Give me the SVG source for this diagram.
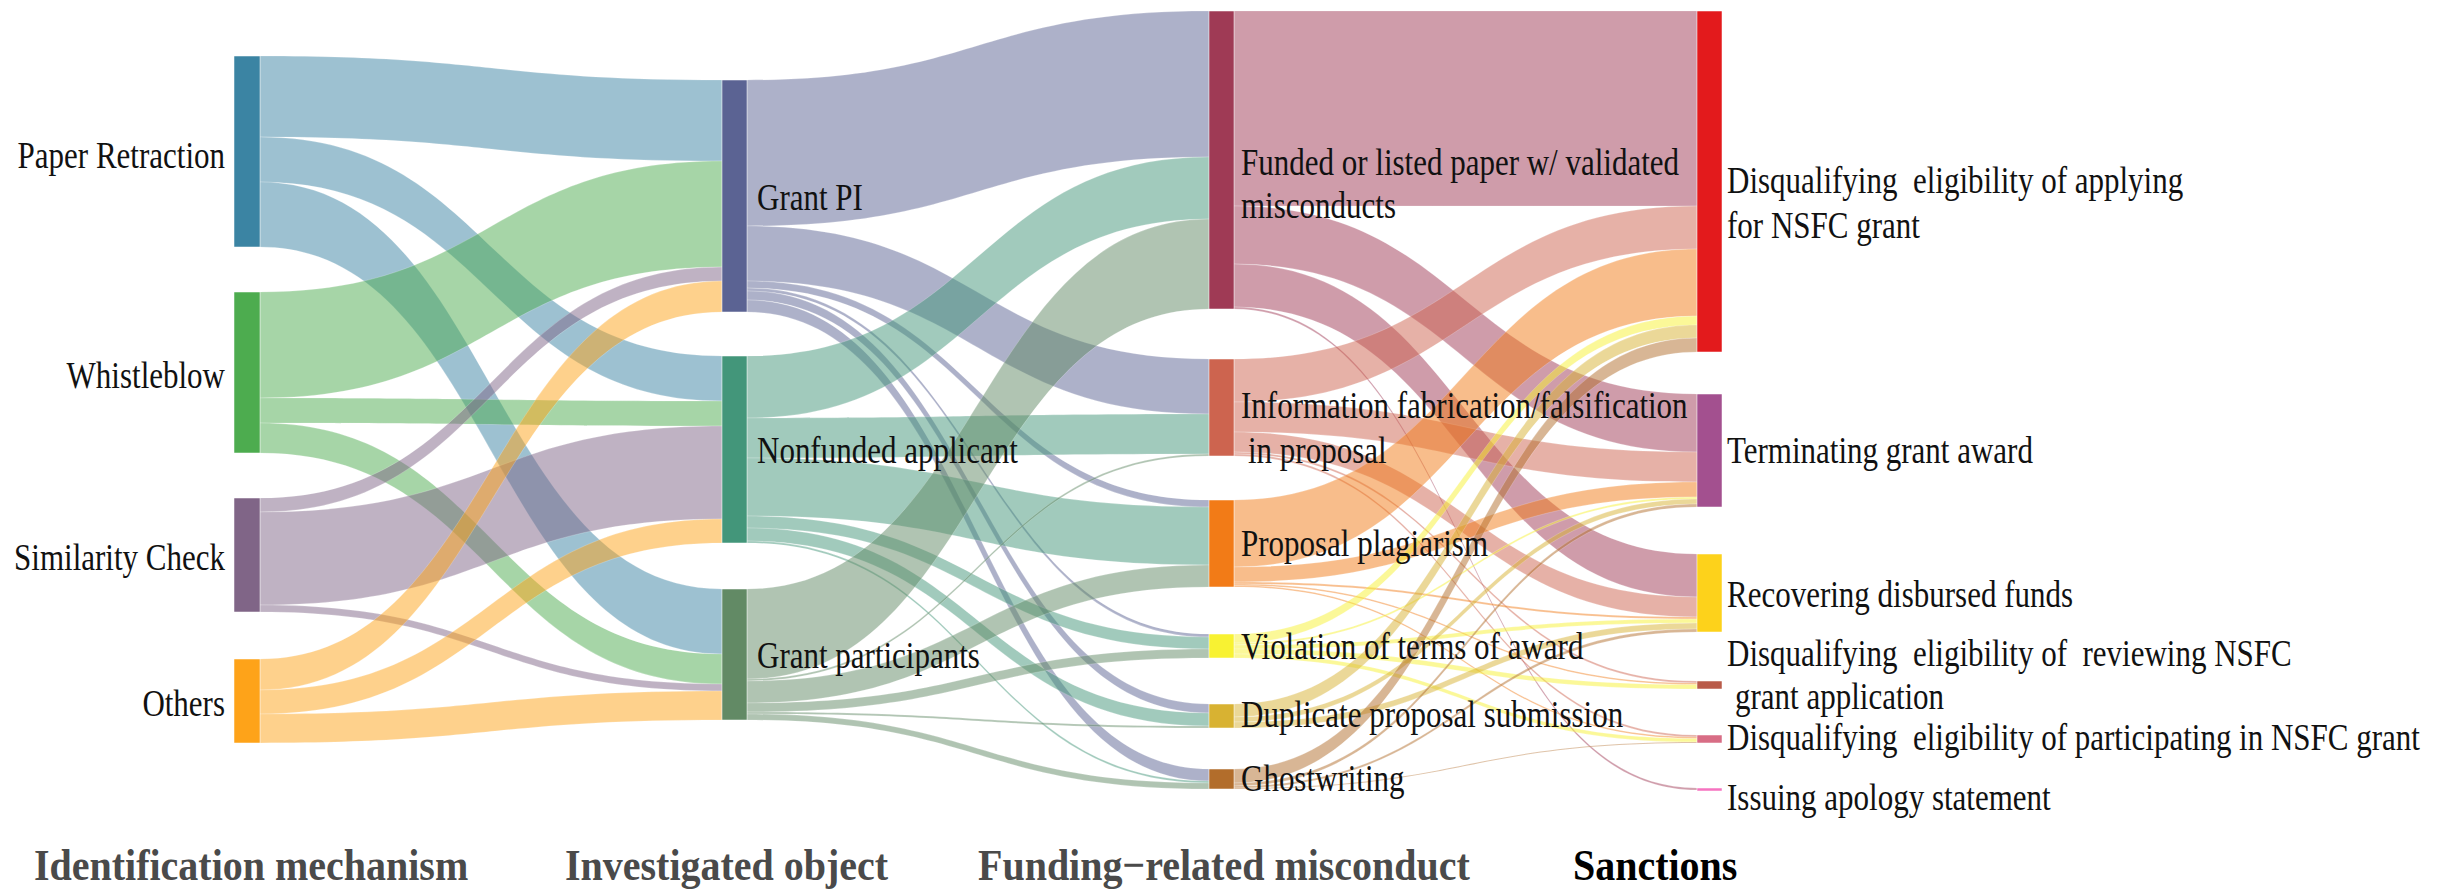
<svg xmlns="http://www.w3.org/2000/svg" width="2442" height="891" viewBox="0 0 2442 891">
<style>
.lk{fill-opacity:0.5;stroke:#fff;stroke-width:0.4;stroke-opacity:0.5}
.nd{stroke:#fff;stroke-width:0.5}
.lbl{font-family:"Liberation Serif","Times New Roman",serif;font-size:31px;fill:#111;white-space:pre}
.ttl{font-family:"Liberation Serif","Times New Roman",serif;font-size:40px;font-weight:bold;fill:#4a4a4a}
.end{text-anchor:end}
</style>
<rect width="2442" height="891" fill="#fff"/>
<g id="connectors">
<g fill="#3b84a3">
<path class="lk" d="M260 56C491 56 491 80 722 80L722 161C491 161 491 137 260 137Z"/>
<path class="lk" d="M260 137C491 137 491 356 722 356L722 401C491 401 491 182 260 182Z"/>
<path class="lk" d="M260 182C491 182 491 589 722 589L722 654C491 654 491 247 260 247Z"/>
</g>
<g fill="#4dac4f">
<path class="lk" d="M260 292C491 292 491 161 722 161L722 267C491 267 491 398 260 398Z"/>
<path class="lk" d="M260 398C491 398 491 401 722 401L722 426C491 426 491 423 260 423Z"/>
<path class="lk" d="M260 423C491 423 491 654 722 654L722 684C491 684 491 453 260 453Z"/>
</g>
<g fill="#806587">
<path class="lk" d="M260 498C491 498 491 267 722 267L722 281C491 281 491 512 260 512Z"/>
<path class="lk" d="M260 512C491 512 491 426 722 426L722 519C491 519 491 605 260 605Z"/>
<path class="lk" d="M260 605C491 605 491 684 722 684L722 691C491 691 491 612 260 612Z"/>
</g>
<g fill="#fea319">
<path class="lk" d="M260 659C491 659 491 281 722 281L722 312C491 312 491 690 260 690Z"/>
<path class="lk" d="M260 690C491 690 491 519 722 519L722 543C491 543 491 714 260 714Z"/>
<path class="lk" d="M260 714C491 714 491 691 722 691L722 720C491 720 491 743 260 743Z"/>
</g>
<g fill="#5b6393">
<path class="lk" d="M747 80C978 80 978 11 1209 11L1209 157C978 157 978 226 747 226Z"/>
<path class="lk" d="M747 226C978 226 978 359 1209 359L1209 414C978 414 978 281 747 281Z"/>
<path class="lk" d="M747 281C978 281 978 500 1209 500L1209 507C978 507 978 288 747 288Z"/>
<path class="lk" d="M747 288C978 288 978 634 1209 634L1209 637C978 637 978 291 747 291Z"/>
<path class="lk" d="M747 291C978 291 978 704 1209 704L1209 713C978 713 978 300 747 300Z"/>
<path class="lk" d="M747 300C978 300 978 769 1209 769L1209 781C978 781 978 312 747 312Z"/>
</g>
<g fill="#43967a">
<path class="lk" d="M747 356C978 356 978 157 1209 157L1209 219C978 219 978 418 747 418Z"/>
<path class="lk" d="M747 418C978 418 978 414 1209 414L1209 454C978 454 978 458 747 458Z"/>
<path class="lk" d="M747 458C978 458 978 507 1209 507L1209 565C978 565 978 516 747 516Z"/>
<path class="lk" d="M747 516C978 516 978 637 1209 637L1209 649C978 649 978 528 747 528Z"/>
<path class="lk" d="M747 528C978 528 978 713 1209 713L1209 726C978 726 978 541 747 541Z"/>
<path class="lk" d="M747 541C978 541 978 781 1209 781L1209 783C978 783 978 543 747 543Z"/>
</g>
<g fill="#628a65">
<path class="lk" d="M747 589C978 589 978 219 1209 219L1209 309C978 309 978 679 747 679Z"/>
<path class="lk" d="M747 679C978 679 978 454 1209 454L1209 456C978 456 978 681 747 681Z"/>
<path class="lk" d="M747 681C978 681 978 565 1209 565L1209 587C978 587 978 703 747 703Z"/>
<path class="lk" d="M747 703C978 703 978 649 1209 649L1209 658C978 658 978 712 747 712Z"/>
<path class="lk" d="M747 712C978 712 978 726 1209 726L1209 728C978 728 978 714 747 714Z"/>
<path class="lk" d="M747 714C978 714 978 783 1209 783L1209 789C978 789 978 720 747 720Z"/>
</g>
<g fill="#9f3a55">
<path class="lk" d="M1234 11C1465 11 1465 11 1697 11L1697 206C1465 206 1465 206 1234 206Z"/>
<path class="lk" d="M1234 206C1465 206 1465 394 1697 394L1697 452C1465 452 1465 264 1234 264Z"/>
<path class="lk" d="M1234 264C1465 264 1465 554 1697 554L1697 597C1465 597 1465 307 1234 307Z"/>
<path class="lk" d="M1234 307C1465 307 1465 788 1697 788L1697 790C1465 790 1465 309 1234 309Z"/>
</g>
<g fill="#cd644f">
<path class="lk" d="M1234 359C1465 359 1465 206 1697 206L1697 249C1465 249 1465 402 1234 402Z"/>
<path class="lk" d="M1234 402C1465 402 1465 452 1697 452L1697 482C1465 482 1465 432 1234 432Z"/>
<path class="lk" d="M1234 432C1465 432 1465 597 1697 597L1697 617C1465 617 1465 452 1234 452Z"/>
<path class="lk" d="M1234 452C1465 452 1465 681 1697 681L1697 683C1465 683 1465 454 1234 454Z"/>
<path class="lk" d="M1234 454C1465 454 1465 735 1697 735L1697 737C1465 737 1465 456 1234 456Z"/>
</g>
<g fill="#f27b17">
<path class="lk" d="M1234 500C1465 500 1465 249 1697 249L1697 316C1465 316 1465 567 1234 567Z"/>
<path class="lk" d="M1234 567C1465 567 1465 482 1697 482L1697 497C1465 497 1465 582 1234 582Z"/>
<path class="lk" d="M1234 582C1465 582 1465 617 1697 617L1697 619C1465 619 1465 584 1234 584Z"/>
<path class="lk" d="M1234 584C1465 584 1465 683 1697 683L1697 684.5C1465 684.5 1465 585.5 1234 585.5Z"/>
<path class="lk" d="M1234 585.5C1465 585.5 1465 737 1697 737L1697 738.5C1465 738.5 1465 587 1234 587Z"/>
</g>
<g fill="#f8f232">
<path class="lk" d="M1234 634C1465 634 1465 316 1697 316L1697 325C1465 325 1465 643 1234 643Z"/>
<path class="lk" d="M1234 643C1465 643 1465 497 1697 497L1697 499C1465 499 1465 645 1234 645Z"/>
<path class="lk" d="M1234 645C1465 645 1465 619 1697 619L1697 623C1465 623 1465 649 1234 649Z"/>
<path class="lk" d="M1234 649C1465 649 1465 684.5 1697 684.5L1697 689C1465 689 1465 654 1234 654Z"/>
<path class="lk" d="M1234 654C1465 654 1465 738.5 1697 738.5L1697 742C1465 742 1465 658 1234 658Z"/>
</g>
<g fill="#d8b232">
<path class="lk" d="M1234 704C1465 704 1465 325 1697 325L1697 338C1465 338 1465 717 1234 717Z"/>
<path class="lk" d="M1234 717C1465 717 1465 499 1697 499L1697 504C1465 504 1465 722 1234 722Z"/>
<path class="lk" d="M1234 722C1465 722 1465 623 1697 623L1697 629C1465 629 1465 728 1234 728Z"/>
</g>
<g fill="#b26d2b">
<path class="lk" d="M1234 769C1465 769 1465 338 1697 338L1697 352C1465 352 1465 783 1234 783Z"/>
<path class="lk" d="M1234 783C1465 783 1465 504 1697 504L1697 507C1465 507 1465 786 1234 786Z"/>
<path class="lk" d="M1234 786C1465 786 1465 629 1697 629L1697 632C1465 632 1465 788 1234 788Z"/>
<path class="lk" d="M1234 788C1465 788 1465 742 1697 742L1697 743C1465 743 1465 789 1234 789Z"/>
</g>
</g>
<g id="node-paper-retraction"><rect class="nd" x="234" y="56" width="26" height="191" fill="#3b84a3"/><text class="lbl end" transform="translate(225 168) scale(1 1.19)">Paper Retraction</text></g>
<g id="node-whistleblow"><rect class="nd" x="234" y="292" width="26" height="161" fill="#4dac4f"/><text class="lbl end" transform="translate(225 388) scale(1 1.19)">Whistleblow</text></g>
<g id="node-similarity-check"><rect class="nd" x="234" y="498" width="26" height="114" fill="#806587"/><text class="lbl end" transform="translate(225 570) scale(1 1.19)">Similarity Check</text></g>
<g id="node-others"><rect class="nd" x="234" y="659" width="26" height="84" fill="#fea319"/><text class="lbl end" transform="translate(225 716) scale(1 1.19)">Others</text></g>
<g id="node-grant-pi"><rect class="nd" x="722" y="80" width="25" height="232" fill="#5b6393"/><text class="lbl" transform="translate(757 210) scale(1 1.19)">Grant PI</text></g>
<g id="node-nonfunded"><rect class="nd" x="722" y="356" width="25" height="187" fill="#43967a"/><text class="lbl" transform="translate(757 463) scale(1 1.19)">Nonfunded applicant</text></g>
<g id="node-grant-participants"><rect class="nd" x="722" y="589" width="25" height="131" fill="#628a65"/><text class="lbl" transform="translate(757 668) scale(1 1.19)">Grant participants</text></g>
<g id="node-funded-paper"><rect class="nd" x="1209" y="11" width="25" height="298" fill="#9f3a55"/><text class="lbl" transform="translate(1241 175) scale(1 1.19)">Funded or listed paper w/ validated</text><text class="lbl" transform="translate(1241 218) scale(1 1.19)">misconducts</text></g>
<g id="node-info-fabrication"><rect class="nd" x="1209" y="359" width="25" height="97" fill="#cd644f"/><text class="lbl" transform="translate(1241 418) scale(1 1.19)">Information fabrication/falsification</text><text class="lbl" transform="translate(1248 463) scale(1 1.19)">in proposal</text></g>
<g id="node-proposal-plagiarism"><rect class="nd" x="1209" y="500" width="25" height="87" fill="#f27b17"/><text class="lbl" transform="translate(1241 556) scale(1 1.19)">Proposal plagiarism</text></g>
<g id="node-violation"><rect class="nd" x="1209" y="634" width="25" height="24" fill="#f8f232"/><text class="lbl" transform="translate(1241 659) scale(1 1.19)">Violation of terms of award</text></g>
<g id="node-duplicate"><rect class="nd" x="1209" y="704" width="25" height="24" fill="#d8b232"/><text class="lbl" transform="translate(1241 727) scale(1 1.19)">Duplicate proposal submission</text></g>
<g id="node-ghostwriting"><rect class="nd" x="1209" y="769" width="25" height="20" fill="#b26d2b"/><text class="lbl" transform="translate(1241 791) scale(1 1.19)">Ghostwriting</text></g>
<g id="node-disq-applying"><rect class="nd" x="1697" y="11" width="25" height="341" fill="#e31a1c"/><text class="lbl" xml:space="preserve" transform="translate(1727 193) scale(1 1.19)">Disqualifying  eligibility of applying</text><text class="lbl" transform="translate(1727 238) scale(1 1.19)">for NSFC grant</text></g>
<g id="node-terminating"><rect class="nd" x="1697" y="394" width="25" height="113" fill="#a3508f"/><text class="lbl" transform="translate(1727 463) scale(1 1.19)">Terminating grant award</text></g>
<g id="node-recovering"><rect class="nd" x="1697" y="554" width="25" height="78" fill="#fdd21b"/><text class="lbl" transform="translate(1727 607) scale(1 1.19)">Recovering disbursed funds</text></g>
<g id="node-disq-reviewing"><rect class="nd" x="1697" y="681" width="25" height="8" fill="#b95b49"/><text class="lbl" xml:space="preserve" transform="translate(1727 666) scale(1 1.19)">Disqualifying  eligibility of  reviewing NSFC</text><text class="lbl" transform="translate(1735 709) scale(1 1.19)">grant application</text></g>
<g id="node-disq-participating"><rect class="nd" x="1697" y="735" width="25" height="8" fill="#d86d85"/><text class="lbl" xml:space="preserve" transform="translate(1727 750) scale(1 1.19)">Disqualifying  eligibility of participating in NSFC grant</text></g>
<g id="node-apology"><rect class="nd" x="1697" y="788" width="25" height="3" fill="#f673c0"/><text class="lbl" transform="translate(1727 810) scale(1 1.19)">Issuing apology statement</text></g>
<g id="titles">
<text class="ttl" transform="translate(34 880) scale(1 1.13)">Identification mechanism</text>
<text class="ttl" transform="translate(565 880) scale(1 1.13)">Investigated object</text>
<text class="ttl" transform="translate(978 880) scale(1 1.13)">Funding−related misconduct</text>
<text class="ttl" style="fill:#000" transform="translate(1573 880) scale(1 1.13)">Sanctions</text>
</g>
</svg>
